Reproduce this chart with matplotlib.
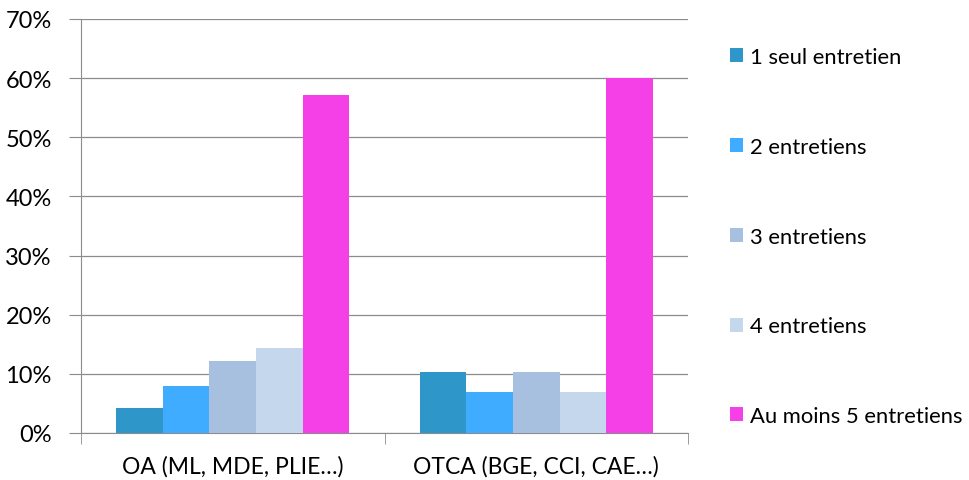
import numpy as np
import matplotlib
matplotlib.use("Agg")
import matplotlib.pyplot as plt
from matplotlib.ticker import FuncFormatter

plt.rcParams['font.family'] = ['Lato', 'DejaVu Sans']

# data (percent)
categories = ["OA (ML, MDE, PLIE…)", "OTCA (BGE, CCI, CAE…)"]
series_names = ["1 seul entretien", "2 entretiens", "3 entretiens",
                "4 entretiens", "Au moins 5 entretiens"]
seul_1 = [4.3, 10.3]
entretiens_2 = [8.0, 6.9]
entretiens_3 = [12.2, 10.3]
entretiens_4 = [14.4, 6.9]
moins_5 = [57.2, 60.0]
colors = ["#2E96C8", "#40ACFF", "#A7C0E0", "#C5D7EC", "#F540E8"]

values = [seul_1, entretiens_2, entretiens_3, entretiens_4, moins_5]

fig = plt.figure(figsize=(9.7, 4.81), dpi=100)
ax = fig.add_axes([81 / 970, 47 / 481, 607 / 970, 414 / 481])

x = np.arange(len(categories))
n = len(values)
group_w = 1 / 1.3
bw = group_w / n
for i, (vals, name, c) in enumerate(zip(values, series_names, colors)):
    ax.bar(x - group_w / 2 + bw * (i + 0.5), vals, width=bw, color=c,
           label=name, zorder=3)

ax.set_xlim(-0.5, len(categories) - 0.5)
ax.set_ylim(0, 70)
ax.set_yticks(np.arange(0, 71, 10))
ax.yaxis.set_major_formatter(FuncFormatter(lambda v, p: f"{v:.0f}%"))
ax.grid(axis="y", color="#8C8C8C", linewidth=0.9, zorder=0)

ax.set_xticks(x)
ax.set_xticklabels(categories)
ax.set_xticks(np.arange(-0.5, len(categories)), minor=True)
ax.tick_params(axis="x", which="major", length=0, pad=16, labelsize=16.5)
ax.tick_params(axis="x", which="minor", length=8, color="#8C8C8C", direction="out")
ax.tick_params(axis="y", length=9, color="#8C8C8C", pad=12, labelsize=17)

for s in ["top", "right"]:
    ax.spines[s].set_visible(False)
for s in ["left", "bottom"]:
    ax.spines[s].set_color("#8C8C8C")

leg = fig.legend(loc="upper left", bbox_to_anchor=(730 / 970, 1 - 48 / 481),
                 frameon=False, fontsize=15.8, handlelength=0.6, handleheight=0.6,
                 handletextpad=0.3, labelspacing=3.18, borderaxespad=0,
                 borderpad=0)

fig.savefig("out.png", dpi=100)
